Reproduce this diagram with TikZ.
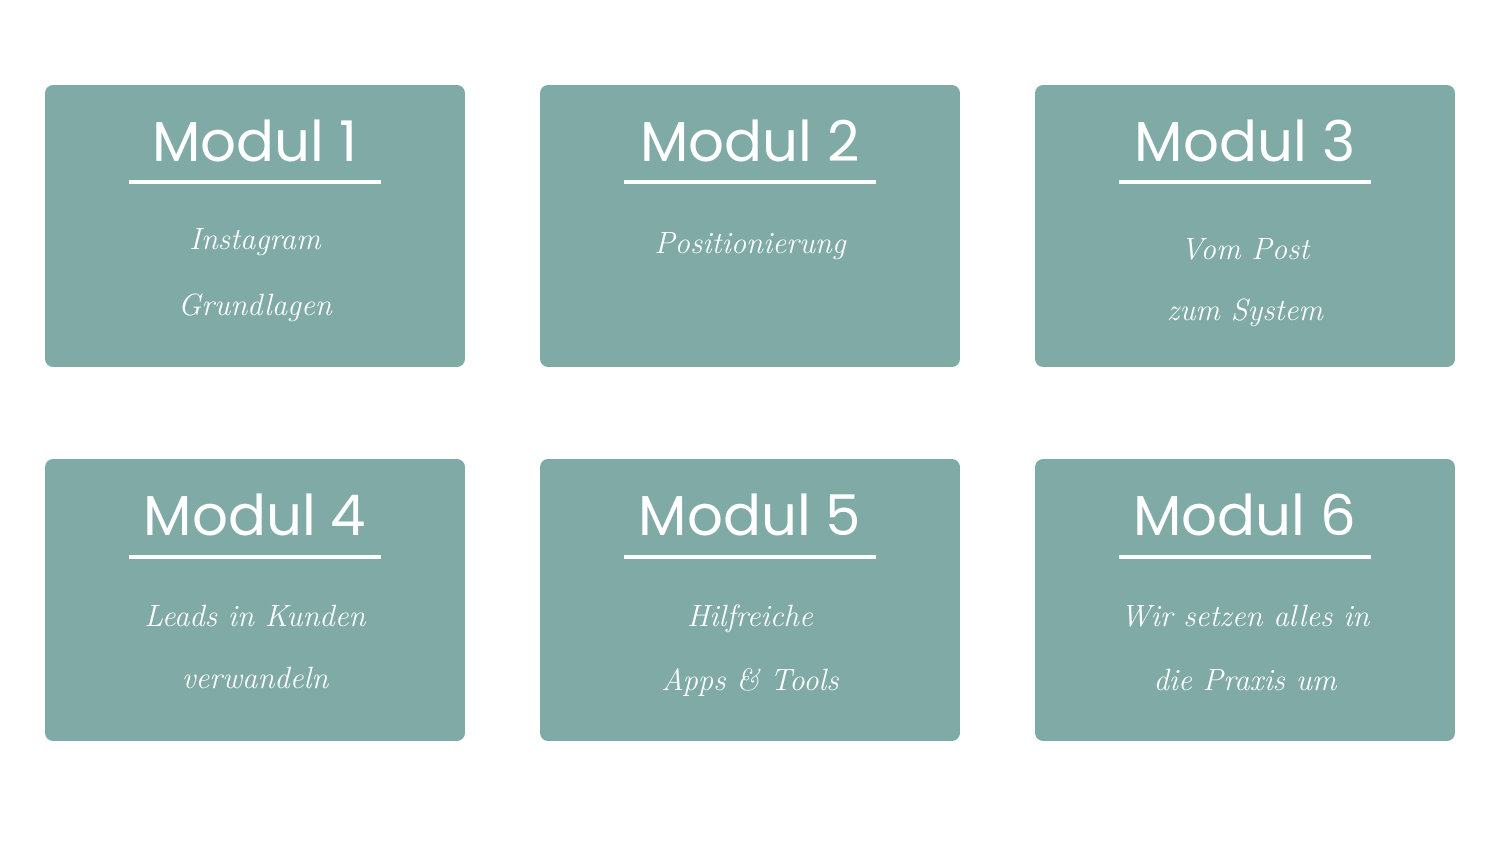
\documentclass[tikz,border=0pt]{standalone}
\usepackage{fontspec}
\newfontfamily\titlefont{Poppins}
\definecolor{modulgreen}{HTML}{80AAA6}
\begin{document}
\begin{tikzpicture}[x=0.02cm,y=-0.02cm,
    modulbox/.style={fill=modulgreen,draw=none,rounded corners=0.16cm,
      minimum width=8.4cm,minimum height=5.64cm,inner sep=0pt},
    modultitle/.style={text=white,font=\titlefont\fontsize{32}{38}\selectfont},
    modulline/.style={draw=white,line width=2pt},
    modultext/.style={text=white,anchor=base,font=\fontsize{17.5}{22}\selectfont\itshape}]
  \useasboundingbox[fill=white] (0,0) rectangle (1500,844);
  % boxes
  \draw
    (255,226) node[modulbox] (m1){}
    (750,226) node[modulbox] (m2){}
    (1245,226) node[modulbox] (m3){}
    (255,600) node[modulbox] (m4){}
    (750,600) node[modulbox] (m5){}
    (1245,600) node[modulbox] (m6){};
  % titles
  \draw
    (255,141) node[modultitle] (t1){Modul 1}
    (750,141) node[modultitle] (t2){Modul 2}
    (1245,141) node[modultitle] (t3){Modul 3}
    (255,515) node[modultitle] (t4){Modul 4}
    (750,515) node[modultitle] (t5){Modul 5}
    (1245,515) node[modultitle] (t6){Modul 6};
  \begin{scope}[modulline]
    \draw (129,182) -- (381,182);
    \draw (624,182) -- (876,182);
    \draw (1119,182) -- (1371,182);
    \draw (129,557) -- (381,557);
    \draw (624,557) -- (876,557);
    \draw (1119,557) -- (1371,557);
  \end{scope}
  % subtitles
  \draw
    (255,250) node[modultext] (s1a){Instagram}
    (255,316) node[modultext] (s1b){Grundlagen}
    (750,254) node[modultext] (s2a){Positionierung}
    (1245,260) node[modultext] (s3a){Vom Post}
    (1245,320) node[modultext] (s3b){zum System}
    (255,626) node[modultext] (s4a){Leads in Kunden}
    (255,688) node[modultext] (s4b){verwandeln}
    (750,626) node[modultext] (s5a){Hilfreiche}
    (750,690) node[modultext] (s5b){Apps \& Tools}
    (1245,626) node[modultext] (s6a){Wir setzen alles in}
    (1245,690) node[modultext] (s6b){die Praxis um};
\end{tikzpicture}
\end{document}
